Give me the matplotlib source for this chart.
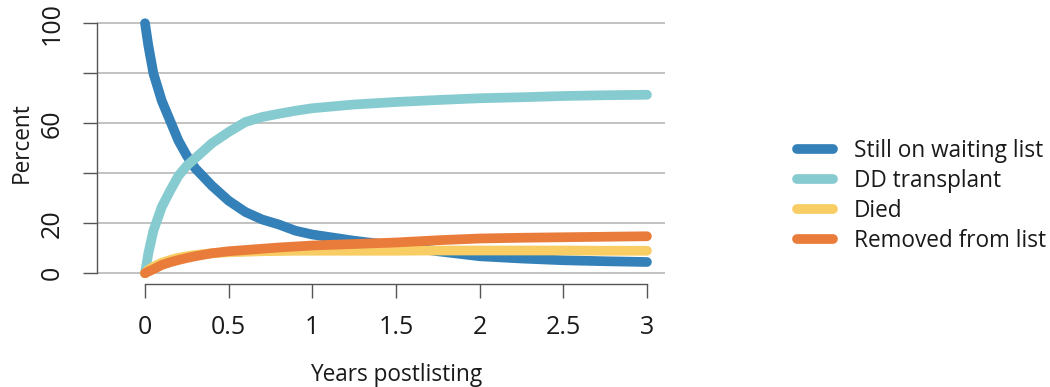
import matplotlib
matplotlib.use("Agg")
import matplotlib.pyplot as plt

plt.rcParams['font.family'] = ['Open Sans', 'DejaVu Sans']

# years since listing
years = [0, 0.02, 0.05, 0.1, 0.15, 0.2, 0.25, 0.3, 0.4, 0.5, 0.6, 0.7, 0.8, 0.9,
         1.0, 1.25, 1.5, 1.75, 2.0, 2.25, 2.5, 2.75, 3.0]

still_waiting = [100, 91, 80, 69, 61, 53, 47, 42, 35, 29, 24.5, 21.5, 19.5, 17,
                 15.5, 13, 11, 8.8, 6.8, 5.9, 5.2, 4.8, 4.5]
dd_transplant = [0, 8, 17, 26.5, 33, 39, 43, 46, 52, 56.5, 60.5, 62.5, 63.8, 65,
                 66, 67.5, 68.5, 69.3, 70, 70.4, 70.9, 71.2, 71.4]
died = [0, 1.3, 2.6, 4.2, 5.3, 6.2, 6.8, 7.3, 8.0, 8.4, 8.6, 8.8, 8.9, 9,
        9, 9, 9, 9.1, 9.1, 9.1, 9.1, 9.0, 9.0]
removed = [0, 0.7, 1.6, 3.3, 4.4, 5.3, 6.1, 6.8, 8.0, 8.8, 9.3, 9.8, 10.3, 10.7,
           11.1, 11.7, 12.3, 13.2, 13.9, 14.2, 14.4, 14.6, 14.8]

series = [
    ("Still on waiting list", still_waiting, "#3481B9"),
    ("DD transplant", dd_transplant, "#86CBD0"),
    ("Died", died, "#F8CD64"),
    ("Removed from list", removed, "#E97C3A"),
]

y_ticks = [0, 20, 40, 60, 80, 100]
y_labels = ["0", "20", "", "60", "", "100"]
x_ticks = [0, 0.5, 1, 1.5, 2, 2.5, 3]
x_labels = ["0", "0.5", "1", "1.5", "2", "2.5", "3"]

W, H = 1050, 387
fig = plt.figure(figsize=(W / 100, H / 100), dpi=100)
ax = fig.add_axes([97 / W, 1 - 284 / H, (665 - 97) / W, (284 - 12) / H])

for yv in y_ticks:
    ax.axhline(yv, color="#BDBDBD", lw=1.3, zorder=1)

for label, vals, col in series:
    ax.plot(years, vals, color=col, lw=7, solid_capstyle="round",
            solid_joinstyle="round", label=label, zorder=3)

ax.set_xlim(-0.287, 3.108)
ax.set_ylim(-4.3, 104.5)

for s in ["top", "right"]:
    ax.spines[s].set_visible(False)
ax.spines["left"].set_bounds(0, 100)
ax.spines["bottom"].set_bounds(0, 3)
for s in ["left", "bottom"]:
    ax.spines[s].set_color("#555555")
    ax.spines[s].set_linewidth(1.0)

ax.set_yticks(y_ticks)
ax.set_yticklabels(y_labels, rotation=90, va="center")
ax.set_xticks(x_ticks)
ax.set_xticklabels(x_labels)
ax.tick_params(axis="both", length=10, width=1.0, color="#555555",
               labelsize=18, labelcolor="#1a1a1a")
ax.tick_params(axis="y", pad=13)
ax.tick_params(axis="x", pad=12)

fig.text(22 / W, 1 - 142.5 / H, "Percent", rotation=90, ha="center", va="center",
         fontsize=16.3, color="#1a1a1a")
fig.text(396 / W, 1 - 375 / H, "Years postlisting", ha="center", va="center",
         fontsize=16.3, color="#1a1a1a")

leg = ax.legend(loc="center left", bbox_to_anchor=(796.5 / W, 1 - 196 / H),
                bbox_transform=fig.transFigure, frameon=False, fontsize=16.3,
                handlelength=1.6, handletextpad=0.95, labelspacing=0.27,
                borderaxespad=0, borderpad=0)
for t in leg.get_texts():
    t.set_color("#1a1a1a")

fig.savefig("out.png", dpi=100)
